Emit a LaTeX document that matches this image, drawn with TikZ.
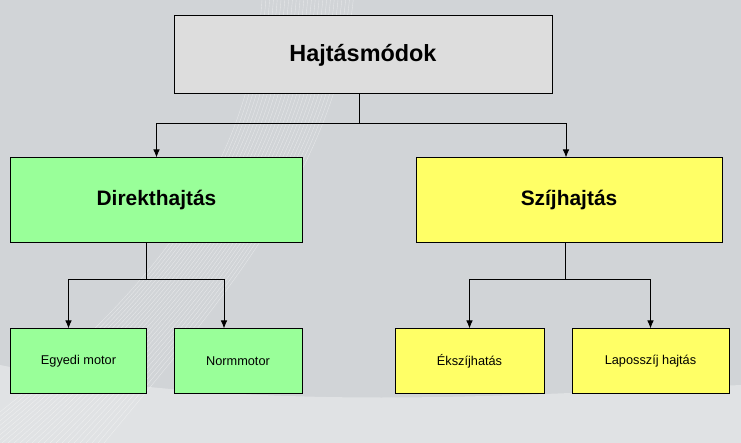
\documentclass[tikz,border=0pt]{standalone}
\usepackage{fontspec}
\setmainfont{Liberation Sans}
\usetikzlibrary{arrows.meta}
\definecolor{mybg}{RGB}{209,212,215}
\definecolor{mybglight}{RGB}{224,226,228}
\definecolor{mygray}{RGB}{221,221,221}
\definecolor{mygreen}{RGB}{153,255,153}
\definecolor{myyellow}{RGB}{255,255,102}
\tikzset{
  mainbox/.style={draw=black, line width=1bp, fill=mygray, minimum width=378bp,
    minimum height=78bp, font=\bfseries\fontsize{23.5}{26}\selectfont},
  groupbox/.style={draw=black, line width=1bp, minimum height=85bp,
    font=\bfseries\fontsize{21}{24}\selectfont},
  leafbox/.style={draw=black, line width=1bp, minimum height=64bp,
    font=\fontsize{12.8}{14}\selectfont},
  link/.style={draw=black, line width=0.9bp},
  linkarr/.style={link, -{Latex[length=8bp,width=6.5bp]}}
}
\begin{document}
\begin{tikzpicture}[x=1bp,y=-1bp]
\useasboundingbox (0,0) rectangle (741,443);

% background
\begin{scope}
\clip (0,0) rectangle (741,443);
\fill[mybg] (0,0) rectangle (741,443);
\fill[mybglight] (0,365) .. controls (250,415) and (520,395) .. (741,385)
  -- (741,443) -- (0,443) -- cycle;
\foreach \i in {0,...,24}
  \draw[white, opacity=0.45, line width=0.4bp]
    (262+\i*3.8,0) .. controls (250+\i*3.6,170) and (150+\i*3,300) .. (-40+\i*6,443);
\end{scope}

% nodes
\node[mainbox] (hajtas) at (363,55) {Hajtásmódok};

\node[groupbox, fill=mygreen, minimum width=291bp] (direkt) at (156.5,200.5) {Direkthajtás};
\node[groupbox, fill=myyellow, minimum width=306bp] (szij) at (569,200.5) {Szíjhajtás};

\node[leafbox, fill=mygreen, minimum width=135bp] (egyedi) at (78.5,361) {Egyedi motor};
\node[leafbox, fill=mygreen, minimum width=128bp] (norm) at (238,361) {Normmotor};
\node[leafbox, fill=myyellow, minimum width=149bp] (ekszij) at (469.5,361) {Ékszíjhatás};
\node[leafbox, fill=myyellow, minimum width=157bp] (lapos) at (650.5,361) {Laposszíj hajtás};

% connectors
\coordinate (top) at ([xshift=-4bp]hajtas.south);
\draw[link] (top) -- ++(0,29) coordinate (tj);
\draw[linkarr] (tj) -| (direkt.north);
\draw[linkarr] (tj) -| ([xshift=-3bp]szij.north);

\coordinate (dl) at ([xshift=-10bp]direkt.south);
\draw[link] (dl) -- ++(0,36) coordinate (dj);
\draw[linkarr] (dj) -| ([xshift=-10bp]egyedi.north);
\draw[linkarr] (dj) -| ([xshift=-14bp]norm.north);

\coordinate (sl) at ([xshift=-4bp]szij.south);
\draw[link] (sl) -- ++(0,36) coordinate (sj);
\draw[linkarr] (sj) -| (ekszij.north);
\draw[linkarr] (sj) -| (lapos.north);

\end{tikzpicture}
\end{document}
